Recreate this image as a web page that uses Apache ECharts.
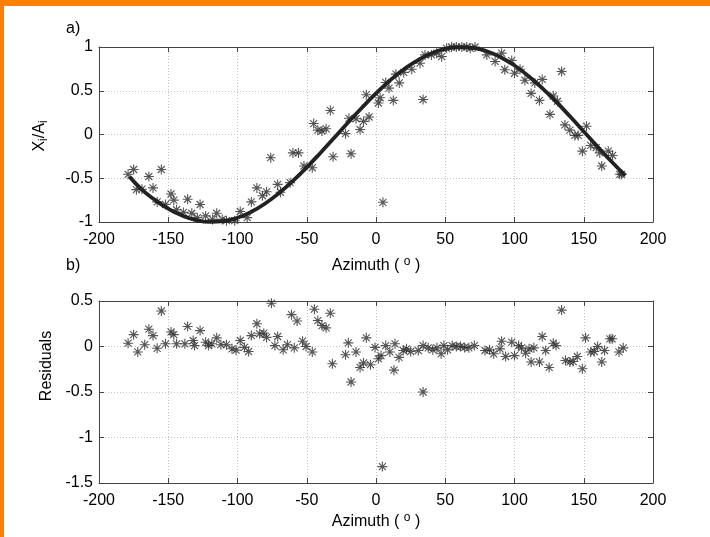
<!DOCTYPE html>
<html>
<head>
<meta charset="utf-8">
<script src="https://cdn.jsdelivr.net/npm/echarts@6/dist/echarts.min.js"></script>
<style>
html,body{margin:0;padding:0;background:#fff;}
#c{width:710px;height:537px;}
</style>
</head>
<body>
<div id="c"></div>
<script>
// Fitted curve (azimuth, X/A)
const fitAz  = [-178,-170,-160,-150,-140,-130,-120,-110,-100,-90,-80,-70,-60,-50,-40,-30,-20,-10,0,10,20,30,40,50,60,70,80,90,100,110,120,130,140,150,160,170,180];
const fitVal = [-0.48,-0.616,-0.743,-0.848,-0.927,-0.978,-0.999,-0.99,-0.951,-0.883,-0.788,-0.669,-0.53,-0.375,-0.208,-0.035,0.139,0.309,0.469,0.616,0.743,0.848,0.927,0.978,0.999,0.99,0.951,0.883,0.788,0.669,0.53,0.375,0.208,0.035,-0.139,-0.309,-0.469];

// Observed points, panel a
const obsAz  = [-179,-175,-173,-169,-164,-161,-155,-158,-152,-148,-146,-144,-139,-136,-133,-127,-129,-123,-118,-115,-111,-108,-102,-98,-93,-90,-86,-82,-79,-71,-76,
  -69,-62,-60,-56,-52,-46,-45,-42,-39,-36,-33,-31,-22,-19.5,-18,-14.4,-11.5,-9,-5,-7,1.7,3,5,7,9.4,12.5,14.4,16.8,20,25.8,31.8,34,35.4,40,43.8,47.4,51,54.6,58,62,65.5,
  68,71.5,80,86,90.7,98,93,100,104,107.5,112,114.7,118,120,125.6,128,131,134,136.4,140,143.6,146,149,152,155,159,161.6,163,167.7,170.8,176,177.3];
const obsVal = [-0.455,-0.40,-0.63,-0.625,-0.48,-0.61,-0.40,-0.77,-0.80,-0.68,-0.75,-0.86,-0.89,-0.74,-0.90,-0.80,-0.95,-0.93,-0.97,-0.90,-0.97,-0.985,-0.985,-0.88,-0.95,-0.77,-0.61,-0.70,-0.655,-0.57,-0.265,
  -0.66,-0.55,-0.21,-0.21,-0.36,-0.38,0.125,0.05,0.04,0.065,0.275,-0.255,0.01,0.185,-0.22,0.18,0.057,0.15,0.20,0.455,0.36,0.42,-0.775,0.595,0.53,0.39,0.69,0.59,0.71,0.746,0.815,0.40,0.91,0.91,0.93,0.89,0.985,1.0,1.0,1.0,1.0,
  0.985,1.0,0.91,0.835,0.93,0.845,0.74,0.70,0.745,0.62,0.47,0.59,0.39,0.63,0.23,0.44,0.38,0.72,0.11,0.05,-0.01,-0.01,-0.19,0.095,-0.125,-0.15,-0.21,-0.36,-0.19,-0.24,-0.455,-0.455];

// Residuals, panel b
const resAz  = [-179,-175,-172,-167,-164,-161,-158,-155,-152,-148,-146,-144,-138,-136,-132,-131,-127,-123,-121,-118.5,-115,-112,-108,-104,-101,-98,-95,-92,-90,-86,-84,-81,-79,-75.5,-73,-71,-67,-64,-61,-59,-57,-53,-50.5,-46,-44.5,-42,-39,-36,-33,-31.5,-22,-20,-18,-14.4,-11.5,-9,-7,-4,-0.7,1.7,
  3.6,4.6,7,10,13,13.7,16.6,19.7,22,25,30.5,34,34,37.7,41,44,47,49,51.7,55,58,61,64,67,71,78.7,82,85,89.5,90.7,93.6,98,100,103,105,108,110.5,112,114,118,120,122.5,125,128,130,134,136.8,140,142.4,145.3,149,151.3,155,157.6,160,163,165,168.9,170.5,175.4,178.5];
const resVal = [0.036,0.13,-0.06,0.02,0.19,0.12,-0.02,0.39,0.03,0.16,0.13,0.03,0.03,0.22,0.066,0.01,0.175,0.047,0.01,0.03,0.095,0.02,0.02,-0.025,-0.04,0.066,-0.01,-0.055,0.12,0.25,0.14,0.146,0.10,0.476,0.01,0.11,-0.036,0.02,0.35,-0.015,0.28,0.058,0.0,-0.06,0.41,0.285,0.23,0.205,0.366,-0.19,-0.09,0.04,-0.39,-0.06,-0.23,-0.18,0.095,-0.20,-0.01,-0.135,
  -0.10,-1.32,0.01,-0.06,-0.26,0.03,-0.12,-0.044,-0.026,-0.055,-0.044,0.01,-0.50,-0.015,-0.037,-0.015,-0.08,0.01,-0.037,0.01,0.0,0.0,-0.01,-0.015,0.01,-0.044,-0.037,-0.08,-0.026,0.058,-0.11,0.047,-0.10,0.01,-0.015,-0.074,-0.026,-0.17,-0.015,-0.17,0.11,-0.044,-0.23,0.036,0.01,0.40,-0.154,-0.17,-0.165,-0.11,-0.245,0.095,-0.06,-0.055,0.0,-0.17,-0.044,0.085,0.085,-0.06,-0.015];

const xTicksMin = -200, xTicksMax = 200, xStep = 50;

const FONT = 'Liberation Sans, Arial, sans-serif';
const FS = 16;
const zip = (a, b) => a.map((v, i) => [v, b[i]]);
const star = 'path://M0,-10L0,10M-10,0L10,0M-7,-7L7,7M-7,7L7,-7';

const chart = echarts.init(document.getElementById('c'), null, {renderer: 'canvas'});

function xAx(gi, show) {
  return {
    type: 'value', gridIndex: gi, min: xTicksMin, max: xTicksMax, interval: xStep,
    position: show ? 'bottom' : 'top',
    axisLine: {show: true, onZero: false, lineStyle: {color: '#444', width: 1}},
    axisTick: {show: true, inside: true, length: 5, lineStyle: {color: '#444'}},
    axisLabel: {show: show, color: '#000', fontSize: FS, fontFamily: FONT, margin: 10},
    splitLine: {show: show, lineStyle: {color: '#c4c4c4', type: [1, 2], width: 1}}
  };
}
function yAx(gi, show, min, max) {
  return {
    type: 'value', gridIndex: gi, min: min, max: max, interval: 0.5,
    position: show ? 'left' : 'right',
    axisLine: {show: true, onZero: false, lineStyle: {color: '#444', width: 1}},
    axisTick: {show: true, inside: true, length: 5, lineStyle: {color: '#444'}},
    axisLabel: {show: show, color: '#000', fontSize: FS, fontFamily: FONT, margin: 6},
    splitLine: {show: show, lineStyle: {color: '#c4c4c4', type: [1, 2], width: 1}}
  };
}

const option = {
  backgroundColor: '#fff',
  animation: false,
  grid: [
    {left: 99, top: 47, width: 554, height: 175},
    {left: 99, top: 301, width: 554, height: 182}
  ],
  xAxis: [xAx(0, true), xAx(0, false), xAx(1, true), xAx(1, false)],
  yAxis: [yAx(0, true, -1, 1), yAx(0, false, -1, 1), yAx(1, true, -1.5, 0.5), yAx(1, false, -1.5, 0.5)],
  series: [
    {
      type: 'scatter', xAxisIndex: 0, yAxisIndex: 0, data: zip(obsAz, obsVal),
      symbol: star, symbolSize: 10,
      itemStyle: {color: 'rgba(0,0,0,0)', borderColor: '#2a2a2a', borderWidth: 1.1}
    },
    {
      type: 'line', xAxisIndex: 0, yAxisIndex: 0, data: zip(fitAz, fitVal),
      smooth: true, showSymbol: false, lineStyle: {color: '#222', width: 3.8}, z: 3
    },
    {
      type: 'scatter', xAxisIndex: 2, yAxisIndex: 2, data: zip(resAz, resVal),
      symbol: star, symbolSize: 10,
      itemStyle: {color: 'rgba(0,0,0,0)', borderColor: '#2a2a2a', borderWidth: 1.1}
    }
  ],
  graphic: [
    {type: 'rect', shape: {x: 0, y: 0, width: 710, height: 6}, style: {fill: '#FF8000'}, silent: true},
    {type: 'rect', shape: {x: 0, y: 0, width: 4, height: 537}, style: {fill: '#FF8000'}, silent: true},
    {type: 'text', left: 66, top: 21, style: {text: 'a)', font: FS + 'px ' + FONT, fill: '#000'}},
    {type: 'text', left: 66, top: 258, style: {text: 'b)', font: FS + 'px ' + FONT, fill: '#000'}},
    {type: 'text', x: 376, y: 266, style: {
      text: 'Azimuth ( {s|o} )', align: 'center', verticalAlign: 'middle', font: FS + 'px ' + FONT, fill: '#000',
      rich: {s: {fontSize: 12, fontFamily: FONT, verticalAlign: 'top', padding: [0, 0, 8, 0]}}}},
    {type: 'text', x: 376, y: 522, style: {
      text: 'Azimuth ( {s|o} )', align: 'center', verticalAlign: 'middle', font: FS + 'px ' + FONT, fill: '#000',
      rich: {s: {fontSize: 12, fontFamily: FONT, verticalAlign: 'top', padding: [0, 0, 8, 0]}}}},
    {type: 'text', x: 40, y: 136, rotation: Math.PI / 2, style: {
      text: 'X{s|i}/A{s|i}', align: 'center', verticalAlign: 'middle', font: FS + 'px ' + FONT, fill: '#000',
      rich: {s: {fontSize: 12, fontFamily: FONT, verticalAlign: 'bottom', padding: [8, 0, 0, 0]}}}},
    {type: 'text', x: 47, y: 366, rotation: Math.PI / 2, style: {
      text: 'Residuals', align: 'center', verticalAlign: 'middle', font: FS + 'px ' + FONT, fill: '#000'}}
  ]
};
chart.setOption(option);
</script>
</body>
</html>
